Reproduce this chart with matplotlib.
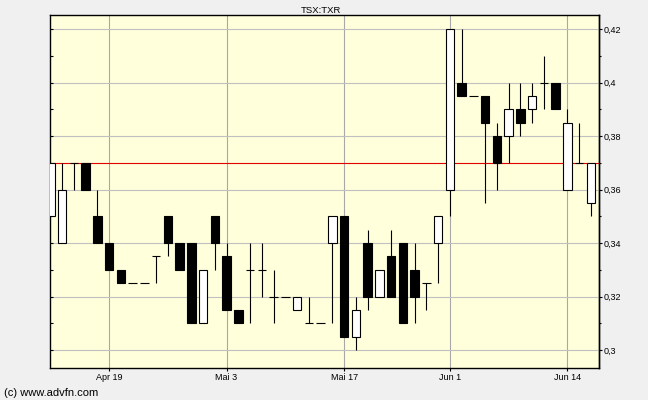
import matplotlib.pyplot as plt
from matplotlib.ticker import FixedLocator, FuncFormatter
import numpy as np

# daily candles, TSX:TXR
opens  = [0.35, 0.34, 0.37, 0.37, 0.35, 0.34, 0.33, 0.325, 0.325, 0.335,
          0.35, 0.34, 0.34, 0.31, 0.35, 0.335, 0.315, 0.33, 0.33, 0.32,
          0.32, 0.315, 0.31, 0.31, 0.34, 0.35, 0.305, 0.34, 0.32, 0.335,
          0.34, 0.33, 0.325, 0.34, 0.36, 0.40, 0.395, 0.395, 0.38, 0.38,
          0.39, 0.39, 0.40, 0.40, 0.36, 0.37, 0.355]
highs  = [0.37, 0.37, 0.37, 0.37, 0.36, 0.34, 0.33, 0.325, 0.325, 0.335,
          0.35, 0.34, 0.34, 0.33, 0.35, 0.34, 0.315, 0.34, 0.34, 0.33,
          0.32, 0.32, 0.32, 0.31, 0.35, 0.35, 0.32, 0.345, 0.33, 0.345,
          0.34, 0.34, 0.325, 0.35, 0.42, 0.42, 0.395, 0.395, 0.385, 0.40,
          0.40, 0.40, 0.41, 0.40, 0.39, 0.385, 0.37]
lows   = [0.35, 0.34, 0.36, 0.36, 0.34, 0.33, 0.325, 0.325, 0.325, 0.325,
          0.335, 0.33, 0.31, 0.31, 0.33, 0.315, 0.31, 0.31, 0.32, 0.31,
          0.32, 0.315, 0.31, 0.31, 0.31, 0.305, 0.30, 0.315, 0.32, 0.32,
          0.31, 0.31, 0.315, 0.325, 0.35, 0.395, 0.395, 0.355, 0.36, 0.37,
          0.38, 0.385, 0.39, 0.39, 0.36, 0.37, 0.35]
closes = [0.37, 0.36, 0.37, 0.36, 0.34, 0.33, 0.325, 0.325, 0.325, 0.335,
          0.34, 0.33, 0.31, 0.33, 0.34, 0.315, 0.31, 0.33, 0.33, 0.32,
          0.32, 0.32, 0.31, 0.31, 0.35, 0.305, 0.315, 0.32, 0.33, 0.32,
          0.31, 0.32, 0.325, 0.35, 0.42, 0.395, 0.395, 0.385, 0.37, 0.39,
          0.385, 0.395, 0.40, 0.39, 0.385, 0.37, 0.37]

date_tick_idx = [5, 15, 25, 34, 44]
date_tick_labels = ['Apr 19', 'Mai 3', 'Mai 17', 'Jun 1', 'Jun 14']
price_ticks = [0.30, 0.32, 0.34, 0.36, 0.38, 0.40, 0.42]
price_minor = [0.31, 0.33, 0.35, 0.37, 0.39, 0.41]
ref_level = 0.37

opens, highs, lows, closes = map(np.array, (opens, highs, lows, closes))
x = np.arange(len(opens))

plt.rcParams['font.family'] = ['Liberation Sans', 'DejaVu Sans']

fig = plt.figure(figsize=(6.48, 4.0), dpi=100, facecolor='#f0f0f0')
ax = fig.add_axes([50.3 / 648, 1 - 368.3 / 400, 548.4 / 648, 353.3 / 400])
ax.set_facecolor('#ffffdc')

w = 0.72
# wicks
ax.vlines(x, lows, highs, color='black', lw=0.8, zorder=3)
# bodies
up = closes > opens
down = closes < opens
flat = closes == opens
ax.bar(x[up], (closes - opens)[up], bottom=opens[up], width=w,
       color='white', edgecolor='black', lw=0.8, zorder=4)
ax.bar(x[down], (opens - closes)[down], bottom=closes[down], width=w,
       color='black', edgecolor='black', lw=0.8, zorder=4)
ax.hlines(opens[flat], x[flat] - w / 2, x[flat] + w / 2, color='black', lw=0.8, zorder=4)

ax.axhline(ref_level, color='#e00000', lw=0.8, zorder=2)

ax.set_xlim(0.0, 46.67)
ax.set_ylim(0.29315, 0.42535)

ax.yaxis.set_major_locator(FixedLocator(price_ticks))
ax.yaxis.set_minor_locator(FixedLocator(price_minor))
ax.grid(axis='y', which='major', color='#c0c0c0', lw=0.8, zorder=1)
ax.xaxis.set_major_locator(FixedLocator(date_tick_idx))
ax.set_xticklabels(date_tick_labels)
ax.grid(axis='x', which='major', color='#a8a8a8', lw=0.8, zorder=1)
ax.set_axisbelow(True)

ax.tick_params(axis='y', which='both', direction='in', left=True, right=False,
               labelleft=False, length=2, width=0.8)
ax.tick_params(axis='x', direction='out', length=2, width=0.8, pad=1.5, labelsize=6.5)

fmt = FuncFormatter(lambda v, p: f"{round(v, 2):g}".replace('.', ','))
sec = ax.secondary_yaxis('right')
sec.yaxis.set_major_locator(FixedLocator(price_ticks))
sec.yaxis.set_minor_locator(FixedLocator(price_minor))
sec.yaxis.set_major_formatter(fmt)
sec.tick_params(which='major', direction='out', length=2.2, width=0.8, pad=1.5, labelsize=6.5)
sec.tick_params(which='minor', direction='out', length=1.4, width=0.8)
sec.spines['right'].set_linewidth(1.0)

for s in ax.spines.values():
    s.set_linewidth(1.0)

fig.text(321 / 648, 1 - 10.3 / 400, 'TSX:TXR', ha='center', va='center', fontsize=6.8)
fig.text(4 / 648, 1 - 392.7 / 400, '(c) www.advfn.com', ha='left', va='center', fontsize=8)

fig.savefig('out.png', dpi=100, facecolor=fig.get_facecolor())
